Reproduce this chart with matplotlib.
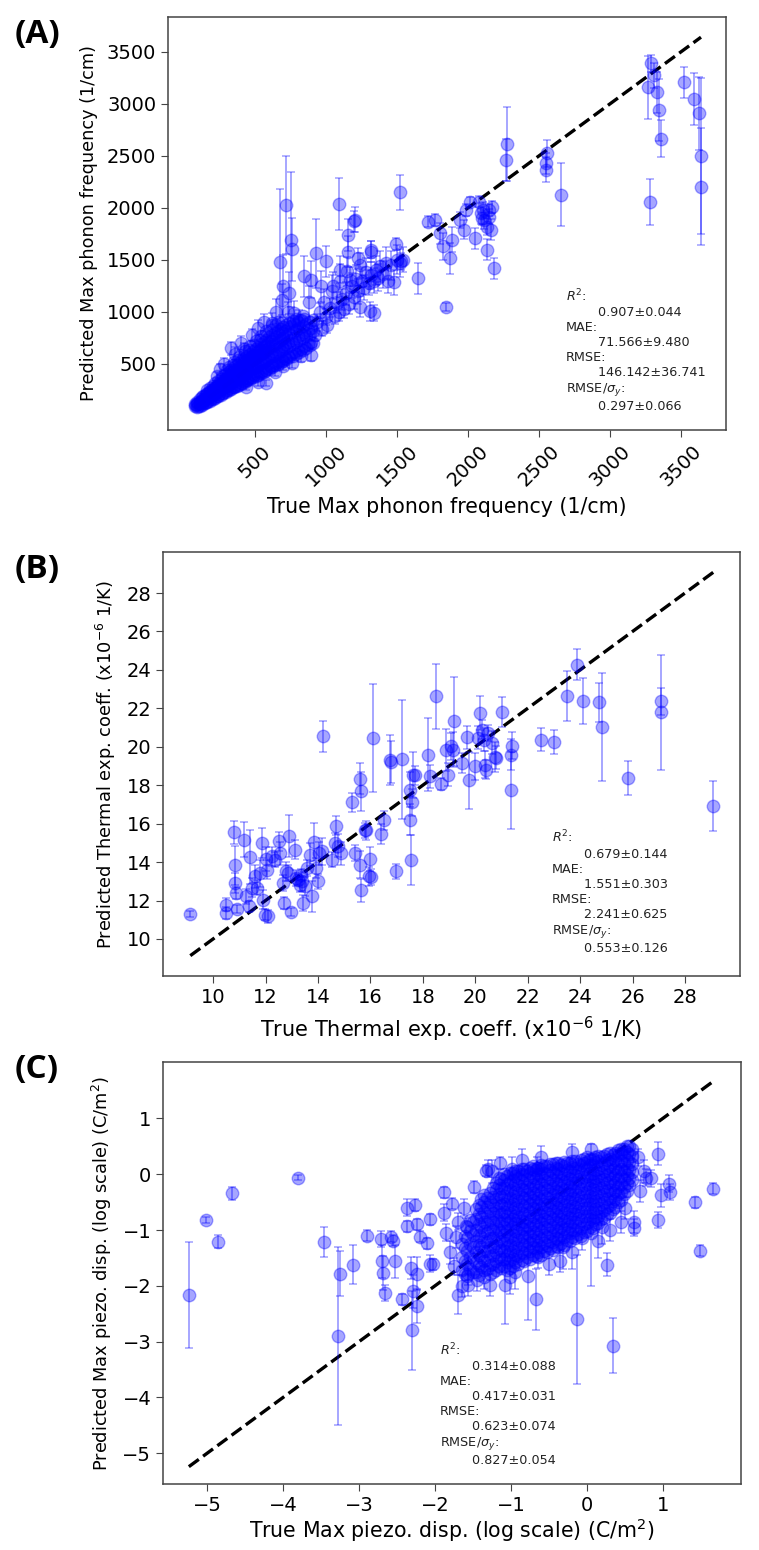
import matplotlib.pyplot as plt

# ---------------------------------------------------------
# (A) max phonon frequency, 1/cm
# ---------------------------------------------------------
a_true = [3266, 3290, 3310, 3334, 3348, 3358, 3283, 3520, 3592, 3627,
          3641, 3641, 2654, 2558, 2552, 2552, 2273, 2269, 1524, 720,
          751, 760, 675, 1091, 1204, 1194, 1153, 1156, 1228, 933,
          1002, 847, 1101, 1314, 1496, 1531, 1651, 1720, 1771, 1806,
          1823, 1844, 1874, 1884, 1943, 1970, 2012, 2046, 2091, 2108,
          2115, 2132, 2149, 2160, 2132, 2180, 2149, 2166, 2081, 1984,
          2100, 689, 740, 775, 620, 808, 700, 650, 730, 920,
          940, 955, 970, 985, 1000, 1010, 1030, 1045, 1060, 1075,
          1090, 1100, 1110, 1125, 1140, 1150, 1165, 1180, 1195, 1210,
          1225, 1240, 1255, 1270, 1285, 1300, 1307, 1320, 1335, 1341,
          1350, 1365, 1380, 1400, 1420, 1440, 1460, 1478, 1500, 1520,
          1545, 963, 894, 1170, 1240, 880, 1050, 1320, 330, 360,
          400, 420, 250, 280, 230, 480, 520, 560, 440, 520,
          579, 640, 700, 758, 826, 894]
a_pred = [3158, 3389, 3276, 3110, 2941, 2666, 2055, 3209, 3049, 2908,
          2502, 2205, 2128, 2525, 2430, 2365, 2614, 2460, 2150, 2030,
          1694, 1600, 1479, 2037, 1884, 1870, 1740, 1580, 1516, 1564,
          1485, 1341, 1405, 1597, 1651, 1485, 1322, 1869, 1885, 1757,
          1629, 1046, 1516, 1693, 1885, 1789, 2061, 1709, 1949, 1981,
          1885, 1821, 1981, 1789, 1597, 1421, 1917, 2006, 2061, 1981,
          1900, 1117, 1181, 989, 893, 925, 1250, 1000, 1000, 780,
          900, 1000, 840, 1100, 950, 870, 1040, 1200, 960, 1090,
          1000, 1300, 1120, 1030, 1180, 1390, 1080, 1250, 1140, 1320,
          1200, 1050, 1300, 1230, 1380, 1280, 1005, 1350, 1300, 990,
          1400, 1330, 1440, 1360, 1470, 1300, 1450, 1283, 1500, 1470,
          1500, 1245, 1309, 1309, 1450, 1100, 1250, 1580, 650, 600,
          700, 640, 450, 500, 380, 780, 850, 900, 280, 330,
          317, 420, 480, 509, 573, 589]
a_err = [300, 80, 120, 200, 300, 180, 220, 150, 250, 350,
         750, 560, 300, 130, 100, 120, 360, 200, 170, 470,
         650, 300, 700, 250, 120, 100, 150, 150, 100, 330,
         150, 200, 130, 80, 60, 80, 150, 50, 60, 100,
         130, 40, 150, 120, 80, 90, 40, 100, 100, 80,
         90, 80, 60, 100, 100, 100, 70, 60, 50, 60,
         60, 150, 200, 120, 100, 90, 300, 120, 100, 60,
         80, 90, 70, 120, 80, 70, 90, 150, 80, 100,
         90, 160, 100, 90, 110, 140, 100, 120, 110, 130,
         120, 100, 130, 120, 140, 120, 90, 130, 120, 80,
         140, 130, 150, 130, 150, 120, 140, 120, 140, 130,
         120, 150, 180, 120, 120, 150, 130, 100, 60, 60,
         70, 60, 50, 60, 40, 60, 70, 80, 30, 40,
         30, 40, 40, 50, 50, 60]

# dense part of the cloud: a true value per column, the predicted values read in it
a_core_true = [75, 92, 110, 128, 146, 165, 183, 202, 220, 240,
               258, 277, 296, 315, 334, 352, 371, 390, 410, 428,
               447, 466, 485, 504, 523, 542, 561, 580, 600, 620,
               640, 660, 680, 700, 720, 742, 765, 788, 812, 836,
               860, 885, 905,
               84, 101, 119, 137, 155, 174, 192, 211, 230, 249,
               267, 286, 305, 324, 343, 361, 380, 400, 419, 437,
               456, 475, 494, 513, 532, 551, 570, 590, 610, 630,
               650, 670, 690, 710, 731, 753, 776, 800, 824, 848,
               872, 895]
a_core_pred = [[92, 118], [84, 112, 138], [98, 128, 160], [108, 142, 178],
               [120, 158, 196], [132, 172, 212, 248], [148, 190, 232, 268],
               [160, 205, 250, 292], [176, 222, 268, 315], [190, 240, 288, 338],
               [204, 256, 306, 356], [218, 272, 326, 380], [232, 290, 346, 402],
               [246, 306, 364, 424, 470], [260, 322, 384, 446],
               [274, 340, 404, 468, 520], [288, 356, 422, 490],
               [300, 372, 442, 512, 570], [314, 390, 462, 534],
               [328, 406, 482, 556, 620], [342, 422, 500, 578],
               [356, 440, 520, 600, 670], [370, 456, 540, 622],
               [384, 472, 560, 645, 720], [398, 490, 580, 666],
               [412, 506, 598, 688, 770], [426, 522, 618, 710],
               [440, 540, 636, 732, 820], [455, 556, 656, 755],
               [470, 574, 676, 776, 870], [485, 590, 694, 798],
               [500, 606, 712, 818, 905], [515, 622, 730, 838],
               [530, 640, 748, 856], [545, 656, 766, 874], [562, 674, 786, 894],
               [580, 692, 804, 912], [598, 710, 822, 930], [616, 730, 842],
               [636, 750, 862, 960], [656, 770, 880], [680, 792, 900],
               [700, 812, 918],
               [105], [98, 125], [112, 145], [125, 160, 190], [138, 175, 210],
               [150, 192, 232], [165, 210, 250], [178, 228, 272], [195, 245, 292],
               [208, 262, 312], [222, 280, 334], [236, 298, 355],
               [250, 316, 378, 440], [264, 334, 398], [278, 352, 420, 485],
               [292, 370, 442], [306, 388, 462, 535], [320, 406, 484],
               [334, 424, 506, 580], [348, 440, 526], [362, 458, 546, 630],
               [376, 476, 568], [390, 494, 590, 680], [404, 512, 612],
               [418, 530, 632, 730], [432, 548, 654], [446, 566, 676, 780],
               [462, 584, 698], [478, 604, 720, 830], [494, 622, 740],
               [510, 640, 760, 870], [526, 658, 780], [542, 676, 800, 890],
               [558, 694, 820], [574, 712, 840], [592, 732, 860], [610, 750, 880],
               [630, 770, 900], [648, 790, 920], [668, 810, 930], [690, 830],
               [710, 850]]
a_stats = "$R^2$:\n        0.907±0.044\nMAE:\n        71.566±9.480\nRMSE:\n        146.142±36.741\nRMSE/$\\sigma_y$:\n        0.297±0.066"

# ---------------------------------------------------------
# (B) thermal expansion coefficient
# ---------------------------------------------------------
b_true = [9.13, 10.48, 10.48, 10.80, 10.84, 10.84, 10.89, 10.93, 11.17, 11.26,
          11.36, 11.41, 11.47, 11.58, 11.69, 11.80, 11.86, 11.91, 11.97, 12.03,
          12.06, 12.10, 12.25, 12.38, 12.53, 12.56, 12.66, 12.71, 12.79, 12.84,
          12.90, 12.99, 13.12, 13.18, 13.25, 13.31, 13.36, 13.40, 13.44, 13.49,
          13.59, 13.68, 13.77, 13.83, 13.92, 14.00, 14.05, 14.14, 14.20, 14.55,
          14.66, 14.70, 14.77, 14.89, 15.41, 15.59, 15.29, 15.63, 15.59, 15.63,
          15.81, 15.85, 15.94, 16.00, 16.03, 16.09, 16.41, 16.50, 16.74, 16.80,
          16.98, 17.21, 17.51, 17.52, 17.54, 17.58, 17.63, 17.71, 18.19, 18.29,
          18.51, 18.70, 18.90, 18.97, 19.06, 19.16, 19.20, 19.49, 19.68, 19.75,
          19.99, 20.09, 20.18, 20.27, 20.33, 20.37, 20.42, 20.50, 20.65, 20.74,
          20.80, 21.03, 21.35, 21.41, 21.37, 22.50, 23.00, 23.49, 23.90, 24.10,
          24.73, 24.82, 25.81, 27.09, 27.09, 29.08]
b_pred = [11.30, 11.79, 11.35, 15.55, 13.83, 12.91, 12.39, 11.56, 15.17, 12.22,
          11.70, 14.25, 12.67, 13.26, 12.67, 13.42, 14.99, 12.05, 11.27, 14.16,
          13.61, 11.18, 14.30, 14.13, 15.08, 14.47, 12.91, 11.87, 13.52, 13.43,
          15.34, 11.39, 14.65, 13.17, 13.09, 12.83, 13.35, 13.00, 11.87, 12.74,
          13.69, 14.39, 12.22, 15.05, 13.69, 13.00, 14.47, 14.56, 20.54, 14.13,
          14.99, 15.90, 14.86, 14.47, 14.47, 13.87, 17.11, 17.68, 18.34, 12.53,
          15.65, 15.65, 13.26, 14.16, 13.23, 20.46, 15.46, 16.17, 19.29, 19.21,
          13.52, 19.36, 17.77, 16.21, 14.13, 17.11, 18.55, 18.51, 19.59, 18.46,
          22.62, 18.06, 19.85, 18.55, 20.02, 19.85, 21.32, 19.16, 20.49, 18.25,
          18.98, 20.46, 21.76, 20.89, 20.37, 19.07, 18.81, 20.72, 20.20, 19.47,
          19.42, 21.81, 19.59, 20.06, 17.73, 20.37, 20.25, 22.62, 24.27, 22.36,
          22.31, 21.03, 18.38, 22.36, 21.79, 16.90]
b_err = [0.15, 0.35, 0.3, 0.6, 1.0, 0.5, 0.3, 0.2, 0.9, 0.4,
         0.3, 1.4, 0.5, 0.6, 0.4, 0.7, 0.8, 0.5, 0.3, 0.6,
         0.5, 0.35, 0.5, 0.4, 0.5, 0.6, 0.4, 0.3, 0.5, 0.4,
         1.1, 0.2, 0.5, 0.4, 0.3, 0.4, 0.3, 0.5, 0.4, 0.5,
         0.4, 0.6, 0.8, 1.0, 0.5, 0.4, 0.6, 0.7, 0.8, 0.4,
         0.5, 0.5, 0.6, 0.6, 0.4, 0.7, 0.5, 1.0, 0.8, 0.6,
         0.4, 0.5, 0.5, 0.6, 0.4, 2.8, 0.5, 0.5, 1.3, 1.1,
         0.4, 3.1, 0.9, 0.8, 1.3, 0.7, 1.2, 0.5, 1.9, 0.6,
         1.7, 0.3, 1.1, 0.6, 0.7, 0.9, 2.3, 0.5, 0.6, 1.5,
         0.7, 0.6, 0.9, 0.5, 0.6, 0.7, 0.5, 0.4, 0.6, 0.8,
         0.6, 0.8, 0.8, 0.7, 2.0, 0.6, 0.6, 1.3, 0.8, 1.2,
         1.0, 2.8, 0.9, 0.7, 3.0, 1.3]
b_stats = "$R^2$:\n        0.679±0.144\nMAE:\n        1.551±0.303\nRMSE:\n        2.241±0.625\nRMSE/$\\sigma_y$:\n        0.553±0.126"

# ---------------------------------------------------------
# (C) max piezoelectric displacement, log scale
# ---------------------------------------------------------
c_true = [-5.24, -5.01, -4.85, -4.67, -3.80, -3.46, -3.28, -3.25, -3.08, -2.89,
          -2.71, -2.70, -2.69, -2.66, -2.58, -2.55, -2.53, -2.43, -2.37, -2.37,
          -2.32, -2.30, -2.29, -2.26, -2.24, -2.23, -2.24, -2.20, -2.10, -2.07,
          -2.07, -2.02, -1.88, -1.88, -1.78, -1.72, -1.70, -1.59, -1.57, -1.56,
          -1.49, -1.33, -1.30, -1.27, -1.14, -1.08, -1.01, -0.98, -0.77, -0.67,
          -0.64, -0.65, -0.31, -0.13, -0.07, 0.06, 0.26, 0.35, 0.62, 0.62,
          0.94, 0.94, 0.97, 1.08, 1.10, 0.78, 0.85, 1.43, 1.49, 1.66,
          -1.85, -1.80, -1.75, -1.65, -1.45, -1.35, -0.95, -0.50, -0.35, -0.20,
          0.15, 0.30, 0.45, 0.70, 0.75, 0.68, -1.25, -0.85, -0.60, -0.20,
          0.05, -1.62, -1.70, 0.50, 0.20]
c_pred = [-2.17, -0.82, -1.21, -0.34, -0.06, -1.21, -2.90, -1.78, -1.62, -1.10,
          -1.16, -1.56, -1.77, -2.13, -1.12, -1.19, -1.56, -2.24, -0.60, -0.93,
          -1.68, -2.80, -2.10, -0.55, -1.78, -2.36, -0.90, -1.12, -1.24, -0.81,
          -1.60, -1.61, -0.32, -0.69, -0.53, -1.12, -2.16, -0.93, -1.79, -1.98,
          -0.23, 0.06, 0.10, -1.98, 0.20, -1.98, -1.85, 0.10, -1.82, -2.24,
          -1.48, 0.11, -1.30, -2.60, -1.15, -1.05, -1.62, -3.07, -0.85, -0.96,
          0.37, -0.82, -0.38, -0.17, -0.32, -0.06, -0.07, -0.50, -1.37, -0.26,
          -1.05, -1.40, -1.65, -2.00, -1.90, -1.85, -1.75, -1.60, -1.55, -1.40,
          -1.20, -1.00, -0.85, -0.30, 0.05, 0.30, 0.05, 0.25, 0.30, 0.40,
          0.45, -0.60, -0.85, -0.60, -0.95]
c_err = [0.95, 0.05, 0.12, 0.12, 0.05, 0.27, 1.6, 0.4, 0.35, 0.1,
         0.15, 0.3, 0.3, 0.15, 0.1, 0.1, 0.3, 0.1, 0.15, 0.1,
         0.2, 0.7, 0.3, 0.1, 0.3, 0.3, 0.1, 0.1, 0.1, 0.1,
         0.15, 0.1, 0.1, 0.15, 0.1, 0.2, 0.35, 0.15, 0.2, 0.2,
         0.1, 0.1, 0.15, 0.2, 0.1, 0.7, 0.3, 0.2, 0.8, 0.55,
         0.2, 0.2, 0.4, 1.15, 0.2, 0.95, 0.2, 0.5, 0.2, 0.15,
         0.2, 0.15, 0.2, 0.15, 0.15, 0.15, 0.15, 0.1, 0.1, 0.1,
         0.15, 0.2, 0.15, 0.2, 0.2, 0.2, 0.3, 0.2, 0.2, 0.3,
         0.3, 0.2, 0.2, 0.2, 0.2, 0.15, 0.2, 0.2, 0.2, 0.15,
         0.1, 0.15, 0.15, 0.2, 0.3]

c_core_true = [-1.65, -1.575, -1.5, -1.425, -1.35, -1.275, -1.2, -1.125, -1.05, -0.975,
               -0.9, -0.825, -0.75, -0.675, -0.6, -0.525, -0.45, -0.375, -0.3, -0.225,
               -0.15, -0.075, 0.0, 0.075, 0.15, 0.225, 0.3, 0.375, 0.45, 0.525, 0.6,
               -1.61, -1.54, -1.46, -1.39, -1.31, -1.24, -1.16, -1.09, -1.01, -0.94,
               -0.86, -0.79, -0.71, -0.64, -0.56, -0.49, -0.41, -0.34, -0.26, -0.19,
               -0.11, -0.04, 0.04, 0.11, 0.19, 0.26, 0.34, 0.41, 0.49, 0.56]
c_core_pred = [[-1.72, -1.48, -1.25],
               [-1.82, -1.6, -1.38, -1.15, -0.95],
               [-1.75, -1.52, -1.3, -1.08, -0.86],
               [-1.8, -1.62, -1.44, -1.26, -1.08, -0.9, -0.72, -0.55],
               [-1.72, -1.55, -1.38, -1.2, -1.02, -0.85, -0.68, -0.5, -0.38],
               [-1.78, -1.62, -1.46, -1.3, -1.14, -0.98, -0.82, -0.66, -0.5, -0.34],
               [-1.72, -1.56, -1.4, -1.24, -1.08, -0.92, -0.76, -0.6, -0.44, -0.28, -0.15],
               [-1.68, -1.52, -1.36, -1.2, -1.04, -0.88, -0.72, -0.56, -0.4, -0.24, -0.08],
               [-1.72, -1.58, -1.44, -1.3, -1.16, -1.02, -0.88, -0.74, -0.6, -0.46, -0.32, -0.18, -0.04],
               [-1.65, -1.51, -1.37, -1.23, -1.09, -0.95, -0.81, -0.67, -0.53, -0.39, -0.25, -0.11, 0.03],
               [-1.6, -1.46, -1.32, -1.18, -1.04, -0.9, -0.76, -0.62, -0.48, -0.34, -0.2, -0.06, 0.06],
               [-1.55, -1.41, -1.27, -1.13, -0.99, -0.85, -0.71, -0.57, -0.43, -0.29, -0.15, -0.01, 0.1],
               [-1.52, -1.38, -1.24, -1.1, -0.96, -0.82, -0.68, -0.54, -0.4, -0.26, -0.12, 0.02, 0.12],
               [-1.47, -1.33, -1.19, -1.05, -0.91, -0.77, -0.63, -0.49, -0.35, -0.21, -0.07, 0.07],
               [-1.44, -1.3, -1.16, -1.02, -0.88, -0.74, -0.6, -0.46, -0.32, -0.18, -0.04, 0.1, 0.16],
               [-1.4, -1.26, -1.12, -0.98, -0.84, -0.7, -0.56, -0.42, -0.28, -0.14, 0.0, 0.14],
               [-1.36, -1.22, -1.08, -0.94, -0.8, -0.66, -0.52, -0.38, -0.24, -0.1, 0.04, 0.18],
               [-1.3, -1.16, -1.02, -0.88, -0.74, -0.6, -0.46, -0.32, -0.18, -0.04, 0.1, 0.2],
               [-1.26, -1.12, -0.98, -0.84, -0.7, -0.56, -0.42, -0.28, -0.14, 0.0, 0.14, 0.22],
               [-1.2, -1.06, -0.92, -0.78, -0.64, -0.5, -0.36, -0.22, -0.08, 0.06, 0.2],
               [-1.14, -1.0, -0.86, -0.72, -0.58, -0.44, -0.3, -0.16, -0.02, 0.12, 0.24],
               [-1.1, -0.96, -0.82, -0.68, -0.54, -0.4, -0.26, -0.12, 0.02, 0.16, 0.26],
               [-1.02, -0.88, -0.74, -0.6, -0.46, -0.32, -0.18, -0.04, 0.1, 0.22, 0.3],
               [-0.96, -0.82, -0.68, -0.54, -0.4, -0.26, -0.12, 0.02, 0.16, 0.28],
               [-0.88, -0.74, -0.6, -0.46, -0.32, -0.18, -0.04, 0.1, 0.24, 0.32],
               [-0.78, -0.64, -0.5, -0.36, -0.22, -0.08, 0.06, 0.2, 0.33],
               [-0.7, -0.56, -0.42, -0.28, -0.14, 0.0, 0.14, 0.28, 0.38],
               [-0.58, -0.44, -0.3, -0.16, -0.02, 0.12, 0.26, 0.38],
               [-0.46, -0.32, -0.18, -0.04, 0.1, 0.24, 0.38, 0.46],
               [-0.3, -0.16, -0.02, 0.12, 0.26, 0.4, 0.5],
               [-0.1, 0.04, 0.18, 0.32, 0.46],
               [-1.78, -1.55, -1.32, -1.1],
               [-1.7, -1.48, -1.25, -1.02, -0.82],
               [-1.76, -1.58, -1.4, -1.2, -1.0, -0.8, -0.62],
               [-1.66, -1.48, -1.3, -1.12, -0.94, -0.76, -0.58, -0.44],
               [-1.7, -1.54, -1.38, -1.22, -1.06, -0.9, -0.74, -0.58, -0.42],
               [-1.75, -1.6, -1.45, -1.3, -1.15, -1.0, -0.85, -0.7, -0.55, -0.4, -0.24],
               [-1.64, -1.48, -1.32, -1.16, -1.0, -0.84, -0.68, -0.52, -0.36, -0.2, -0.06],
               [-1.65, -1.51, -1.37, -1.23, -1.09, -0.95, -0.81, -0.67, -0.53, -0.39, -0.25, -0.11, 0.0],
               [-1.68, -1.54, -1.4, -1.26, -1.12, -0.98, -0.84, -0.7, -0.56, -0.42, -0.28, -0.14, 0.02],
               [-1.58, -1.44, -1.3, -1.16, -1.02, -0.88, -0.74, -0.6, -0.46, -0.32, -0.18, -0.04, 0.06],
               [-1.53, -1.39, -1.25, -1.11, -0.97, -0.83, -0.69, -0.55, -0.41, -0.27, -0.13, 0.01, 0.09],
               [-1.48, -1.34, -1.2, -1.06, -0.92, -0.78, -0.64, -0.5, -0.36, -0.22, -0.08, 0.06],
               [-1.45, -1.31, -1.17, -1.03, -0.89, -0.75, -0.61, -0.47, -0.33, -0.19, -0.05, 0.09, 0.14],
               [-1.4, -1.26, -1.12, -0.98, -0.84, -0.7, -0.56, -0.42, -0.28, -0.14, 0.0, 0.12],
               [-1.37, -1.23, -1.09, -0.95, -0.81, -0.67, -0.53, -0.39, -0.25, -0.11, 0.03, 0.15],
               [-1.33, -1.19, -1.05, -0.91, -0.77, -0.63, -0.49, -0.35, -0.21, -0.07, 0.07, 0.18],
               [-1.28, -1.14, -1.0, -0.86, -0.72, -0.58, -0.44, -0.3, -0.16, -0.02, 0.12, 0.2],
               [-1.23, -1.09, -0.95, -0.81, -0.67, -0.53, -0.39, -0.25, -0.11, 0.03, 0.17],
               [-1.18, -1.04, -0.9, -0.76, -0.62, -0.48, -0.34, -0.2, -0.06, 0.08, 0.2],
               [-1.13, -0.99, -0.85, -0.71, -0.57, -0.43, -0.29, -0.15, -0.01, 0.13, 0.23],
               [-1.07, -0.93, -0.79, -0.65, -0.51, -0.37, -0.23, -0.09, 0.05, 0.19],
               [-1.03, -0.89, -0.75, -0.61, -0.47, -0.33, -0.19, -0.05, 0.09, 0.21, 0.28],
               [-0.95, -0.81, -0.67, -0.53, -0.39, -0.25, -0.11, 0.03, 0.17, 0.27],
               [-0.9, -0.76, -0.62, -0.48, -0.34, -0.2, -0.06, 0.08, 0.22, 0.3],
               [-0.81, -0.67, -0.53, -0.39, -0.25, -0.11, 0.03, 0.17, 0.3],
               [-0.72, -0.58, -0.44, -0.3, -0.16, -0.02, 0.12, 0.26, 0.36],
               [-0.62, -0.48, -0.34, -0.2, -0.06, 0.08, 0.22, 0.34],
               [-0.5, -0.36, -0.22, -0.08, 0.06, 0.2, 0.34, 0.44],
               [-0.36, -0.22, -0.08, 0.06, 0.2, 0.34, 0.46],
               [-0.2, -0.06, 0.08, 0.22, 0.36, 0.5]]
c_stats = "$R^2$:\n        0.314±0.088\nMAE:\n        0.417±0.031\nRMSE:\n        0.623±0.074\nRMSE/$\\sigma_y$:\n        0.827±0.054"


def flatten(cols, rows):
    xs, ys = [], []
    for x, col in zip(cols, rows):
        xs += [x] * len(col)
        ys += col
    return xs, ys


style = dict(fmt='o', color='blue', alpha=0.35, markersize=9,
             capsize=3, elinewidth=1.4, capthick=1.2, zorder=2)


def parity(ax, true, pred, err, core=None):
    all_true = list(true) + (list(core[0]) if core is not None else [])
    lo, hi = min(all_true), max(all_true)
    # the y = x line sits under the points, so it vanishes inside the dense cloud
    ax.plot([lo, hi], [lo, hi], 'k--', lw=2.4, zorder=1)
    if core is not None:
        ax.errorbar(core[0], core[1], **style)
    ax.errorbar(true, pred, yerr=err, **style)
    for s in ax.spines.values():
        s.set_color('#444444')
        s.set_linewidth(1.1)
    ax.tick_params(labelsize=14, length=5, color='#444444')


fig = plt.figure(figsize=(7.59, 15.5), dpi=100)

# ---- A
ax = fig.add_axes([0.2213, 0.7226, 0.7352, 0.2665])
parity(ax, a_true, a_pred, a_err, core=flatten(a_core_true, a_core_pred))
ax.set_xlim(-113, 3817)
ax.set_ylim(-135, 3836)
ax.set_xticks([500, 1000, 1500, 2000, 2500, 3000, 3500])
ax.set_yticks([500, 1000, 1500, 2000, 2500, 3000, 3500])
plt.setp(ax.get_xticklabels(), rotation=45)
ax.set_xlabel('True Max phonon frequency (1/cm)', fontsize=14.8, labelpad=5)
ax.set_ylabel('Predicted Max phonon frequency (1/cm)', fontsize=12.7, labelpad=6)
ax.text(0.713, 0.04, a_stats, transform=ax.transAxes, fontsize=9.2,
        va='bottom', ha='left', color='#222222')

# ---- B
ax = fig.add_axes([0.2148, 0.3703, 0.7602, 0.2735])
parity(ax, b_true, b_pred, b_err)
ax.set_xlim(8.09, 30.1)
ax.set_ylim(8.07, 30.13)
ax.set_xticks(range(10, 29, 2))
ax.set_yticks(range(10, 29, 2))
ax.set_xlabel('True Thermal exp. coeff. (x10$^{-6}$ 1/K)', fontsize=15, labelpad=6)
ax.set_ylabel('Predicted Thermal exp. coeff. (x10$^{-6}$ 1/K)', fontsize=12.8, labelpad=6)
ax.text(0.674, 0.05, b_stats, transform=ax.transAxes, fontsize=9.2,
        va='bottom', ha='left', color='#222222')

# ---- C
ax = fig.add_axes([0.2148, 0.0426, 0.7615, 0.2722])
parity(ax, c_true, c_pred, c_err, core=flatten(c_core_true, c_core_pred))
ax.set_xlim(-5.58, 2.03)
ax.set_ylim(-5.55, 2.01)
ax.set_xticks(range(-5, 2))
ax.set_yticks(range(-5, 2))
ax.set_xlabel('True Max piezo. disp. (log scale) (C/m$^2$)', fontsize=14.8, labelpad=1)
ax.set_ylabel('Predicted Max piezo. disp. (log scale) (C/m$^2$)', fontsize=12.8, labelpad=6)
ax.text(0.479, 0.04, c_stats, transform=ax.transAxes, fontsize=9.2,
        va='bottom', ha='left', color='#222222')

# panel letters
for label, ytop in [('(A)', 18), ('(B)', 553), ('(C)', 1053)]:
    fig.text(15 / 759, 1 - ytop / 1550, label, fontsize=24, fontweight='bold',
             family=['Open Sans', 'DejaVu Sans'], va='top', ha='left')

fig.savefig('out.png', dpi=100)
